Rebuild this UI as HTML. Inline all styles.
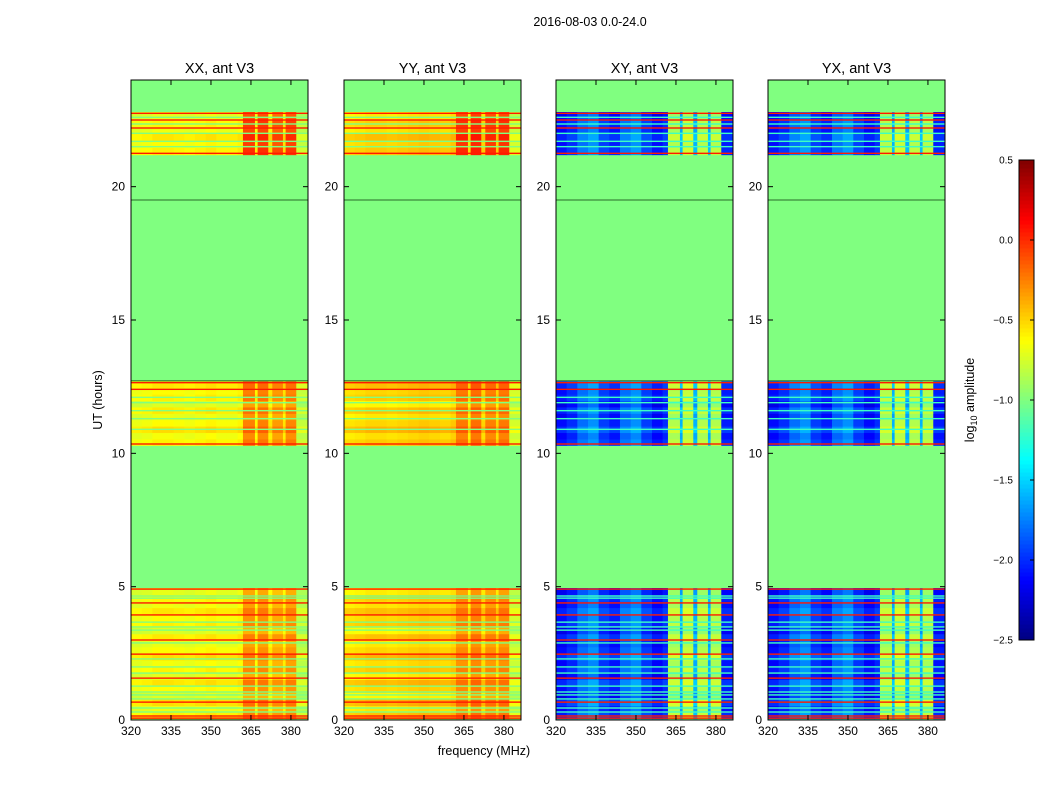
<!DOCTYPE html>
<html><head><meta charset="utf-8">
<style>
body{margin:0;background:#fff;width:1050px;height:800px;overflow:hidden}
svg{font-family:"Liberation Sans",sans-serif}
</style></head>
<body>
<svg id="fig" width="1050" height="800" viewBox="0 0 1050 800">
<text x="590" y="26" font-size="12.5" text-anchor="middle">2016-08-03 0.0-24.0</text>
<text x="484" y="755" font-size="12.5" text-anchor="middle">frequency (MHz)</text>
<text x="0" y="0" font-size="12.5" text-anchor="middle" transform="translate(102,400) rotate(-90)">UT (hours)</text>
<text x="0" y="0" font-size="12.5" text-anchor="middle" transform="translate(974,400) rotate(-90)">log<tspan font-size="9" dy="3">10</tspan><tspan dy="-3"> amplitude</tspan></text>
<g id="panels"></g>
<g id="cbar"></g>
</svg>
<script>
// ---- data ----
const panelTitles = ["XX, ant V3","YY, ant V3","XY, ant V3","YX, ant V3"];
const freqEdges = [320,324,328,332,336,340,344,348,352,356,360,362,366.5,367.5,371.5,373,377,378,382,386.4];
const colXX = [-0.68,-0.66,-0.62,-0.62,-0.64,-0.66,-0.63,-0.6,-0.64,-0.64,-0.6,-0.3,-0.6,-0.3,-0.55,-0.38,-0.55,-0.32,-0.8];
const colYY = [-0.55,-0.53,-0.5,-0.5,-0.52,-0.5,-0.48,-0.46,-0.48,-0.5,-0.46,-0.28,-0.55,-0.25,-0.5,-0.3,-0.5,-0.28,-0.75];
const colXY = [-2.1,-2.0,-1.8,-1.7,-1.95,-2.05,-1.8,-1.7,-1.95,-2.1,-2.0,-0.85,-1.6,-0.8,-1.6,-0.85,-1.6,-0.85,-2.05];
const colYX = [-2.1,-2.0,-1.8,-1.7,-1.95,-2.05,-1.8,-1.7,-1.95,-2.1,-2.0,-0.85,-1.6,-0.8,-1.6,-0.85,-1.6,-0.85,-2.05];
const blockStart = [0.05,10.3,21.2];
const blockEnd = [4.95,12.7,22.8];
const blockHot = [0,0.05,0.25];
const rowOffsets = [0.05,-0.05,0.1,-0.1,0,0.08,-0.08,0.03,-0.03,0.1,0,-0.06,0.06,-0.1,0.04,0,0.07,-0.04,0.02,-0.07];
const redLines = [0.07,0.15,0.67,1.57,2.47,3.0,3.94,4.39,4.91,10.35,12.4,12.65,21.25,22.2,22.5,22.75];
const greenLines = [0.3,0.45,0.79,0.94,1.05,1.27,1.76,1.99,2.29,2.89,3.37,3.49,3.67,4.57,4.65,10.9,11.3,11.6,11.9,12.1,21.5,21.7,22.0,22.35,22.6];
const darkLines = [19.5,12.72];
const xTicks = [320,335,350,365,380];
const yTicks = [0,5,10,15,20];
const cbTicks = [0.5,0.0,-0.5,-1.0,-1.5,-2.0,-2.5];
const cbLabels = ["0.5","0.0","\u22120.5","\u22121.0","\u22121.5","\u22122.0","\u22122.5"];
// ---- layout ----
const panelX = [131,344,556,768], PW=177, PT=80, PB=720;
const cols=[colXX,colYY,colXY,colYX];
const NS="http://www.w3.org/2000/svg";
function jet(v){let t=(v+2.5)/3;t=Math.max(0,Math.min(1,t));
 const c=x=>Math.round(255*Math.max(0,Math.min(1,1.5-Math.abs(x))));
 return `rgb(${c(4*t-3)},${c(4*t-2)},${c(4*t-1)})`;}
function mk(tag,attrs,parent){const e=document.createElementNS(NS,tag);for(const k in attrs)e.setAttribute(k,attrs[k]);parent.appendChild(e);return e;}
const yS=h=>PB-(h/24)*(PB-PT);
const panels=document.getElementById('panels');
panelX.forEach((px,p)=>{
 const xS=f=>px+(f-320)/(386.4-320)*PW;
 const g=mk('g',{},panels);
 
 
 const bg=mk('rect',{x:px,y:PT,width:PW,height:PB-PT,fill:jet(-1.0)},g);
 
 
 blockStart.forEach((bs,b)=>{
  const be=blockEnd[b];const n=Math.round((be-bs)/0.25);const dh=(be-bs)/n;
  for(let i=0;i<n;i++){
   const t0=bs+i*dh,t1=t0+dh;const off=rowOffsets[(i+b*7)%rowOffsets.length];
   for(let j=0;j<freqEdges.length-1;j++){
    let v=cols[p][j]+off; if(cols[p][j]>-0.45)v+=blockHot[b];
    const r=mk('rect',{x:xS(freqEdges[j]),y:yS(t1),width:xS(freqEdges[j+1])-xS(freqEdges[j])+0.5,height:yS(t0)-yS(t1)+0.5,fill:jet(v)},g);
    
    
   }
  }
 });
 greenLines.forEach(h=>{const r=mk('rect',{x:px,y:yS(h)-0.7,width:PW,height:1.4,fill:p>=2?jet(-1.2):jet(-1.0)},g);
  
  });
 redLines.forEach(h=>{const r=mk('rect',{x:px,y:yS(h)-0.7,width:PW,height:1.4,fill:jet(0.05)},g);
  
  });
 darkLines.forEach(h=>{const r=mk('rect',{x:px,y:yS(h)-0.5,width:PW,height:1,fill:'#2a6b2a'},g);
  
  });
 const fr=mk('rect',{x:px,y:PT,width:PW,height:PB-PT,fill:'none',stroke:'#000','stroke-width':1},g);
 
 
 xTicks.forEach(f=>{const x=xS(f);
  mk('line',{x1:x,y1:PB,x2:x,y2:PB-5,stroke:'#000'},g);mk('line',{x1:x,y1:PT,x2:x,y2:PT+5,stroke:'#000'},g);
  const t=mk('text',{x:x,y:PB+15,'font-size':12,'text-anchor':'middle'},g);t.textContent=f;
  
  });
 yTicks.forEach(h=>{const y=yS(h);
  mk('line',{x1:px,y1:y,x2:px+5,y2:y,stroke:'#000'},g);mk('line',{x1:px+PW,y1:y,x2:px+PW-5,y2:y,stroke:'#000'},g);
  const t=mk('text',{x:px-6,y:y+4,'font-size':12,'text-anchor':'end'},g);t.textContent=h;
  
  });
 const tt=mk('text',{x:px+PW/2,y:73,'font-size':14.5,'text-anchor':'middle'},g);tt.textContent=panelTitles[p];
 
 
});
// colorbar
const cb=document.getElementById('cbar');
const CX=1019,CW=15,CT=160,CB=640;
const cy=v=>CB-(v+2.5)/3*(CB-CT);
for(let i=0;i<120;i++){const v0=-2.5+i*0.025;
 const r=mk('rect',{x:CX,y:cy(v0+0.025),width:CW,height:(CB-CT)/120+0.5,fill:jet(v0+0.0125)},cb);
 
 }
const cf=mk('rect',{x:CX,y:CT,width:CW,height:CB-CT,fill:'none',stroke:'#000'},cb);


cbTicks.forEach((v,i)=>{const y=cy(v);mk('line',{x1:CX+CW-4,y1:y,x2:CX+CW,y2:y,stroke:'#000'},cb);
 const t=mk('text',{x:1013,y:y+3.5,'font-size':10,'text-anchor':'end'},cb);
 t.textContent=cbLabels[i];
 
 });
</script>
</body></html>
